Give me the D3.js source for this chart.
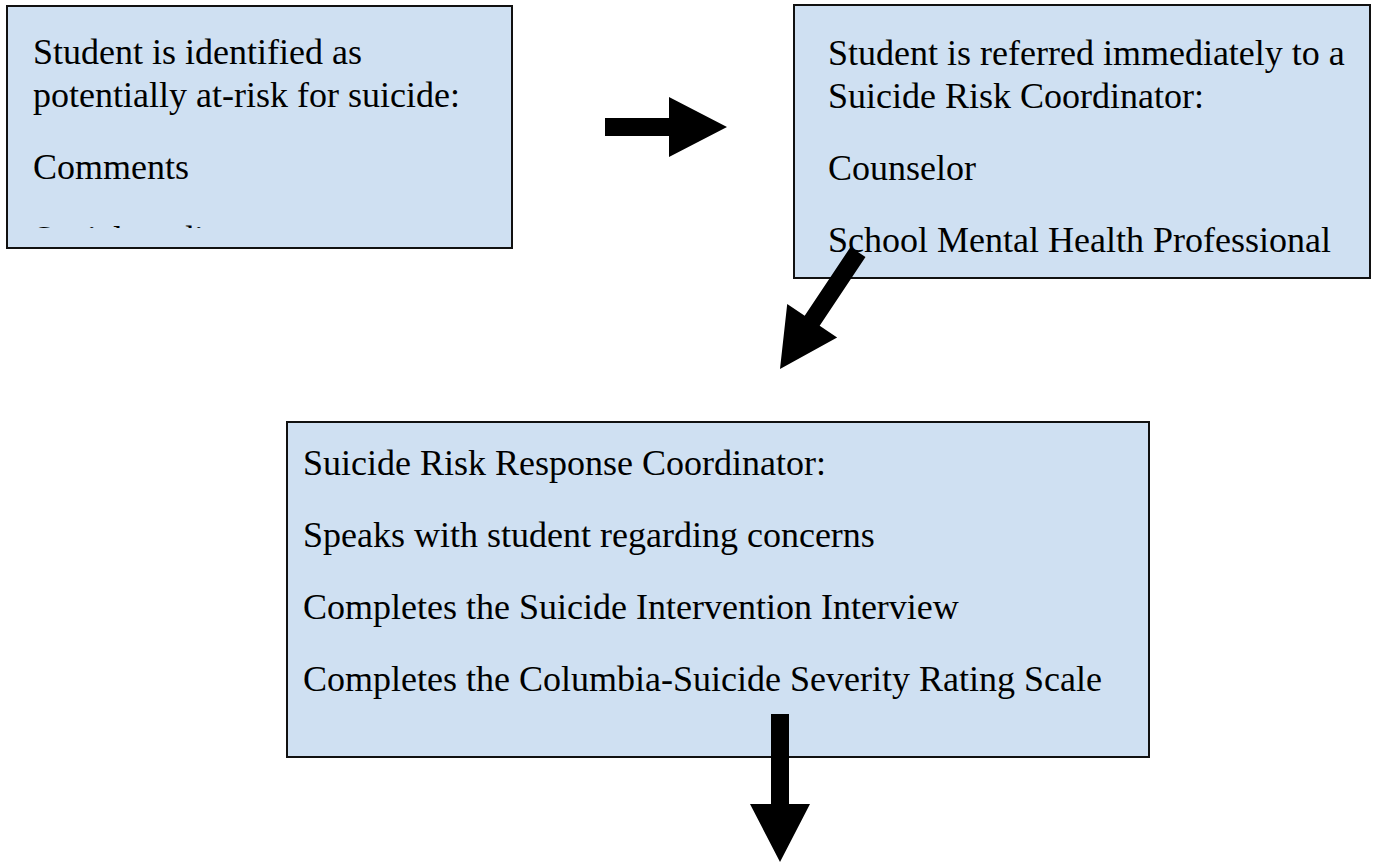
<!DOCTYPE html>
<html>
<head>
<meta charset="utf-8">
<script src="https://cdn.jsdelivr.net/npm/d3@7"></script>
<style>
  body { margin: 0; background: #fff; }
  svg { display: block; }
</style>
</head>
<body>
<svg id="chart"></svg>
<script>
// flowchart content
const box1Paras = [["Student is identified as", "potentially at-risk for suicide:"], ["Comments"], ["Social media posts"]]
const box2Paras = [["Student is referred immediately to a", "Suicide Risk Coordinator:"], ["Counselor"], ["School Mental Health Professional"]]
const box3Paras = [["Suicide Risk Response Coordinator:"], ["Speaks with student regarding concerns"], ["Completes the Suicide Intervention Interview"], ["Completes the Columbia-Suicide Severity Rating Scale"]]

const w = 1373
const h = 863
const fontSize = 36
const lineGap = 43
const paraGap = 72

let svg = d3.select('#chart').attr('width', w).attr('height', h)

let boxes = [
  {id: 'b1', x: 7, y: 6, w: 505, h: 242, tx: 33, first: 58, clip: 222, paras: box1Paras},
  {id: 'b2', x: 794, y: 5, w: 576, h: 273, tx: 828, first: 60, clip: 273, paras: box2Paras},
  {id: 'b3', x: 287, y: 422, w: 862, h: 335, tx: 303, first: 53, clip: 335, paras: box3Paras}
]

let flatten = (paras) => {
  let out = []
  let y = 0
  paras.forEach((p, pi) => {
    p.forEach((line, li) => {
      out.push({text: line, y: y})
      y += (li < p.length - 1) ? lineGap : 0
    })
    y += paraGap
  })
  return out
}

let defs = svg.append('defs')

let drawBox = (b) => {
  defs.append('clipPath').attr('id', 'clip-' + b.id)
    .append('rect')
    .attr('x', b.x).attr('y', b.y)
    .attr('width', b.w).attr('height', b.clip)

  let g = svg.append('g')
  g.append('rect')
    .attr('x', b.x).attr('y', b.y)
    .attr('width', b.w).attr('height', b.h)
    .attr('fill', '#cfe0f2')
    .attr('stroke', '#111')
    .attr('stroke-width', 2)

  let lines = flatten(b.paras)
  let yScale = d3.scaleLinear().domain([0, 1]).range([b.y + b.first, b.y + b.first + 1])

  g.append('g').attr('clip-path', 'url(#clip-' + b.id + ')')
    .selectAll('text')
    .data(lines)
    .enter()
    .append('text')
    .attr('x', b.tx)
    .attr('y', (d) => yScale(d.y))
    .attr('font-family', "'Liberation Serif', serif")
    .attr('font-size', fontSize)
    .attr('fill', '#000')
    .text((d) => d.text)
}

// arrows: tail point, tip point
let arrows = [
  {from: [605, 127], to: [727, 127]},
  {from: [858, 252], to: [780, 369]},
  {from: [780, 714], to: [780, 862]}
]

let drawArrow = (a) => {
  let dx = a.to[0] - a.from[0]
  let dy = a.to[1] - a.from[1]
  let len = Math.sqrt(dx * dx + dy * dy)
  let ang = Math.atan2(dy, dx) * 180 / Math.PI
  let sw = 9, hw = 30, hl = 58
  let pts = [[0, -sw], [len - hl, -sw], [len - hl, -hw], [len, 0], [len - hl, hw], [len - hl, sw], [0, sw]]
  svg.append('path')
    .attr('transform', 'translate(' + a.from[0] + ',' + a.from[1] + ') rotate(' + ang + ')')
    .attr('d', d3.line()(pts) + 'Z')
    .attr('fill', '#000')
}

drawBox(boxes[0])
drawBox(boxes[1])
drawArrow(arrows[0])
drawArrow(arrows[1])
drawBox(boxes[2])
drawArrow(arrows[2])
</script>
</body>
</html>
